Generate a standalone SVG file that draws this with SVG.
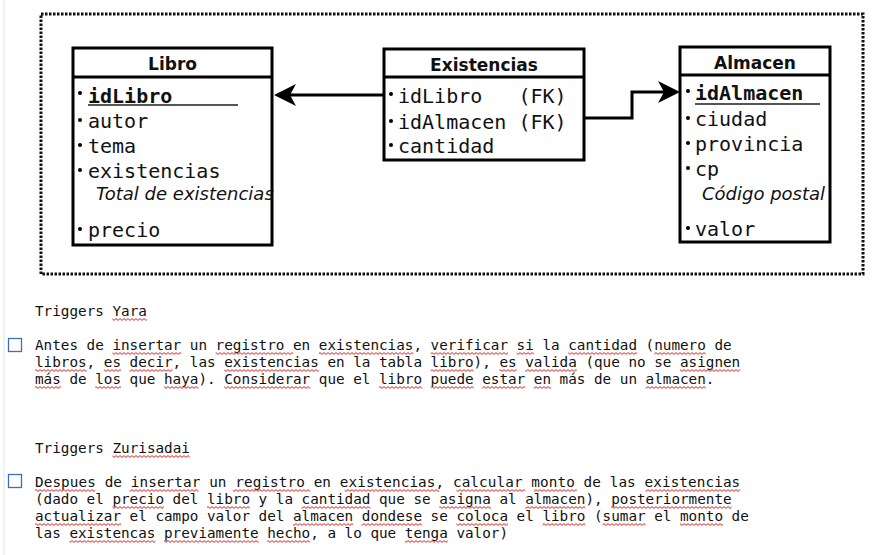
<svg xmlns="http://www.w3.org/2000/svg" width="874" height="555" viewBox="0 0 874 555">
<style>
.box{fill:#fff;stroke:#000;stroke-width:3}
.hd{stroke:#000;stroke-width:3}
.ttl{font-family:"DejaVu Sans",sans-serif;font-weight:bold;font-size:17px;fill:#111;text-anchor:middle}
.at{font-family:"DejaVu Sans Mono",monospace;font-size:20px;fill:#111}
.pk{font-weight:bold}
.it{font-family:"DejaVu Sans",sans-serif;font-style:italic;font-size:18px;fill:#111}
.ul{stroke:#555;stroke-width:2}
.conn{fill:none;stroke:#000;stroke-width:3}
.tx{font-family:"DejaVu Sans Mono",monospace;font-size:14.3px;fill:#111}
.cb{fill:#fff;stroke:#3f6fb5;stroke-width:1.3}
.sq{fill:url(#sq)}
</style>
<defs>
<marker id="arr" markerUnits="userSpaceOnUse" markerWidth="24" markerHeight="24" refX="14" refY="11" orient="auto">
<path d="M0,0 L22,11 L0,22 L6,11 Z" fill="#000"/>
</marker>
<pattern id="sq" patternUnits="userSpaceOnUse" width="4" height="3">
<path d="M0,0.6 L2,2.4 L4,0.6" fill="none" stroke="#e02020" stroke-width="1"/>
</pattern>
</defs>
<rect width="874" height="555" fill="#fff"/>
<line x1="4" y1="0" x2="4" y2="555" stroke="#e2e2e2" stroke-width="1"/>
<rect x="41" y="14" width="822" height="260" fill="none" stroke="#111" stroke-width="3" stroke-dasharray="2.5 1.5"/>

<g id="connectors">
<path class="conn" d="M384,95 H282" marker-end="url(#arr)"/>
<path class="conn" d="M585,118 H632 V92 H672" marker-end="url(#arr)"/>
</g>

<g id="libro">
<rect class="box" x="73" y="48" width="199" height="197"/>
<line class="hd" x1="73" y1="77" x2="272" y2="77"/>
<text class="ttl" x="172.5" y="70">Libro</text>
<circle cx="80" cy="93" r="2"/><text class="at pk" x="88" y="103">idLibro</text>
<line class="ul" x1="88" y1="105" x2="238" y2="105"/>
<circle cx="80" cy="120" r="2"/><text class="at" x="88" y="128">autor</text>
<circle cx="80" cy="145" r="2"/><text class="at" x="88" y="153">tema</text>
<circle cx="80" cy="170" r="2"/><text class="at" x="88" y="178">existencias</text>
<text class="it" x="96" y="200">Total de existencias</text>
<circle cx="80" cy="229" r="2"/><text class="at" x="88" y="237">precio</text>
</g>

<g id="existencias">
<rect class="box" x="384" y="49" width="200" height="111"/>
<line class="hd" x1="384" y1="77" x2="584" y2="77"/>
<text class="ttl" x="484" y="71">Existencias</text>
<circle cx="391" cy="94" r="2"/><text class="at" x="398" y="103" xml:space="preserve">idLibro   (FK)</text>
<circle cx="391" cy="121" r="2"/><text class="at" x="398" y="129">idAlmacen (FK)</text>
<circle cx="391" cy="145" r="2"/><text class="at" x="398" y="153">cantidad</text>
</g>

<g id="almacen">
<rect class="box" x="680" y="47" width="150" height="195"/>
<line class="hd" x1="680" y1="75" x2="830" y2="75"/>
<text class="ttl" x="755" y="69">Almacen</text>
<circle cx="688" cy="91" r="2"/><text class="at pk" x="695" y="100">idAlmacen</text>
<line class="ul" x1="695" y1="104" x2="820" y2="104"/>
<circle cx="688" cy="118" r="2"/><text class="at" x="695" y="126">ciudad</text>
<circle cx="688" cy="143" r="2"/><text class="at" x="695" y="151">provincia</text>
<circle cx="688" cy="168" r="2"/><text class="at" x="695" y="176">cp</text>
<text class="it" x="702" y="200">Código postal</text>
<circle cx="688" cy="228" r="2"/><text class="at" x="695" y="236">valor</text>
</g>

<g id="notes">
<text class="tx" x="35" y="316">Triggers Yara</text>
<rect class="cb" x="8.5" y="338.5" width="13" height="13"/>
<text class="tx" x="35" y="350" textLength="696.6" lengthAdjust="spacing">Antes de insertar un registro en existencias, verificar si la cantidad (numero de</text>
<text class="tx" x="35" y="367" textLength="705.2" lengthAdjust="spacing">libros, es decir, las existencias en la tabla libro), es valida (que no se asignen</text>
<text class="tx" x="35" y="384" textLength="679.4" lengthAdjust="spacing">más de los que haya). Considerar que el libro puede estar en más de un almacen.</text>

<text class="tx" x="35" y="453">Triggers Zurisadai</text>
<rect class="cb" x="8.5" y="474.5" width="13" height="13"/>
<text class="tx" x="35" y="487" textLength="705.2" lengthAdjust="spacing">Despues de insertar un registro en existencias, calcular monto de las existencias</text>
<text class="tx" x="35" y="504" textLength="696.6" lengthAdjust="spacing">(dado el precio del libro y la cantidad que se asigna al almacen), posteriormente</text>
<text class="tx" x="35" y="521" textLength="713.8" lengthAdjust="spacing">actualizar el campo valor del almacen dondese se coloca el libro (sumar el monto de</text>
<text class="tx" x="35" y="538" textLength="473" lengthAdjust="spacing">las existencas previamente hecho, a lo que tenga valor)</text>
</g>

<g id="spellcheck">
<g transform="translate(0,318)"><rect class="sq" x="112.4" y="0" width="34.4" height="3"/></g>
<g transform="translate(0,352)">
<rect class="sq" x="112.4" y="0" width="68.8" height="3"/>
<rect class="sq" x="215.6" y="0" width="77.4" height="3"/>
<rect class="sq" x="318.8" y="0" width="94.6" height="3"/>
<rect class="sq" x="430.6" y="0" width="77.4" height="3"/>
<rect class="sq" x="516.6" y="0" width="17.2" height="3"/>
<rect class="sq" x="568.2" y="0" width="68.8" height="3"/>
<rect class="sq" x="654.2" y="0" width="51.6" height="3"/>
</g>
<g transform="translate(0,369)">
<rect class="sq" x="35" y="0" width="51.6" height="3"/>
<rect class="sq" x="103.8" y="0" width="17.2" height="3"/>
<rect class="sq" x="129.6" y="0" width="43" height="3"/>
<rect class="sq" x="224.2" y="0" width="94.6" height="3"/>
<rect class="sq" x="430.6" y="0" width="43" height="3"/>
<rect class="sq" x="499.4" y="0" width="17.2" height="3"/>
<rect class="sq" x="525.2" y="0" width="51.6" height="3"/>
<rect class="sq" x="680" y="0" width="60.2" height="3"/>
</g>
<g transform="translate(0,386)">
<rect class="sq" x="35" y="0" width="25.8" height="3"/>
<rect class="sq" x="95.2" y="0" width="25.8" height="3"/>
<rect class="sq" x="164" y="0" width="34.4" height="3"/>
<rect class="sq" x="224.2" y="0" width="86" height="3"/>
<rect class="sq" x="379" y="0" width="43" height="3"/>
<rect class="sq" x="430.6" y="0" width="43" height="3"/>
<rect class="sq" x="482.2" y="0" width="43" height="3"/>
<rect class="sq" x="533.8" y="0" width="17.2" height="3"/>
<rect class="sq" x="645.6" y="0" width="60.2" height="3"/>
</g>
<g transform="translate(0,455)"><rect class="sq" x="112.4" y="0" width="77.4" height="3"/></g>
<g transform="translate(0,489)">
<rect class="sq" x="35" y="0" width="60.2" height="3"/>
<rect class="sq" x="129.6" y="0" width="68.8" height="3"/>
<rect class="sq" x="232.8" y="0" width="77.4" height="3"/>
<rect class="sq" x="344.6" y="0" width="94.6" height="3"/>
<rect class="sq" x="456.4" y="0" width="68.8" height="3"/>
<rect class="sq" x="533.8" y="0" width="43" height="3"/>
<rect class="sq" x="645.6" y="0" width="94.6" height="3"/>
</g>
<g transform="translate(0,506)">
<rect class="sq" x="112.4" y="0" width="51.6" height="3"/>
<rect class="sq" x="207" y="0" width="43" height="3"/>
<rect class="sq" x="301.6" y="0" width="68.8" height="3"/>
<rect class="sq" x="439.2" y="0" width="51.6" height="3"/>
<rect class="sq" x="525.2" y="0" width="60.2" height="3"/>
<rect class="sq" x="611.2" y="0" width="120.4" height="3"/>
</g>
<g transform="translate(0,523)">
<rect class="sq" x="35" y="0" width="86" height="3"/>
<rect class="sq" x="293" y="0" width="60.2" height="3"/>
<rect class="sq" x="361.8" y="0" width="60.2" height="3"/>
<rect class="sq" x="456.4" y="0" width="51.6" height="3"/>
<rect class="sq" x="542.4" y="0" width="43" height="3"/>
<rect class="sq" x="602.6" y="0" width="43" height="3"/>
<rect class="sq" x="680" y="0" width="43" height="3"/>
</g>
<g transform="translate(0,540)">
<rect class="sq" x="69.4" y="0" width="86" height="3"/>
<rect class="sq" x="164" y="0" width="94.6" height="3"/>
<rect class="sq" x="267.2" y="0" width="43" height="3"/>
<rect class="sq" x="404.8" y="0" width="43" height="3"/>
</g>
</g>
</svg>
